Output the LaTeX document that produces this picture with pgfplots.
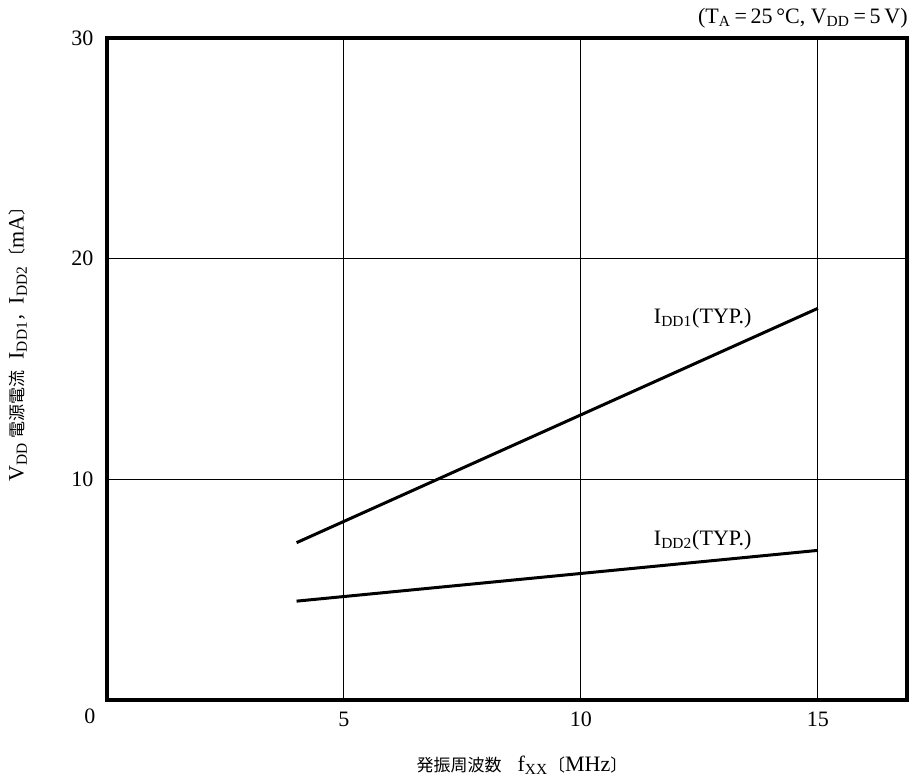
\documentclass[border=0pt]{standalone}
\usepackage{fontspec}
\setmainfont{Liberation Serif}
\newfontfamily\cjkf{Noto Sans CJK JP}
\newcommand{\cjk}{\cjkf\fontsize{8.5}{10}\selectfont}
\usepackage{pgfplots}
\pgfplotsset{compat=1.18}
\begin{document}
\fontsize{11}{13}\selectfont
\begin{tikzpicture}
\useasboundingbox (-53.5pt,-41pt) rectangle (404pt,350pt);
\begin{axis}[
  scale only axis,
  width=400pt, height=331pt,
  at={(0,0)}, anchor=south west,
  xmin=0, xmax=16.88, ymin=0, ymax=30,
  xtick={5,10,15}, ytick={10,20,30},
  major tick length=0pt,
  grid=major,
  grid style={black, line width=0.5pt},
  axis line style={black, line width=1.6pt},
  tick label style={font=\fontsize{11}{13}\selectfont},
  /pgf/number format/assume math mode=true,
  xticklabel style={yshift=-2pt},
  yticklabel style={xshift=-3pt},
  clip=false,
]
\addplot[black, line width=1.5pt] coordinates {(4,7.13) (15,17.75)};
\addplot[black, line width=1.5pt] coordinates {(4,4.48) (15,6.78)};
\node at (axis cs:12.57,17.3) {I\textsubscript{DD1}(TYP.)};
\node at (axis cs:12.57,7.26) {I\textsubscript{DD2}(TYP.)};
\end{axis}
\node at (-8.5pt,-8pt) {0};
\node[anchor=east, inner sep=0pt] at (400.5pt,341pt) {(T\textsubscript{A}\,=\,25\,°C,\ V\textsubscript{DD}\,=\,5\,V)};
\node at (207.5pt,-32.5pt) {{\cjk 発振周波数}\hspace{8pt}f\textsubscript{XX}{\cjk 〔}MHz{\cjk 〕}};
\node[rotate=90] at (-44.5pt,180pt) {V\textsubscript{DD}\,{\cjk 電源電流}\enspace I\textsubscript{DD1}{\cjk ，}I\textsubscript{DD2}{\cjk 〔}mA{\cjk 〕}};
\end{tikzpicture}
\end{document}
